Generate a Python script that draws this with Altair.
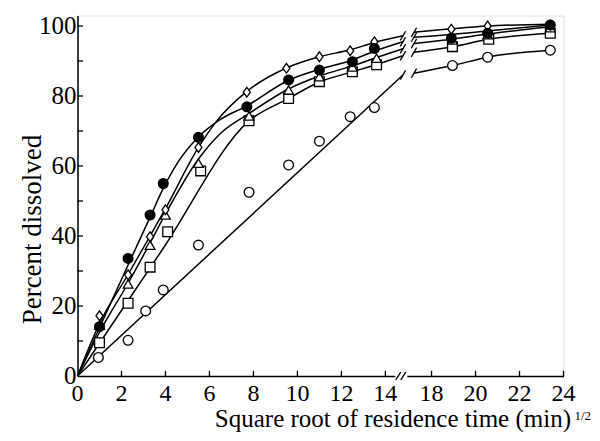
import altair as alt
import pandas as pd

# ---- values ----------------------------------------------------------------
# x: square root of residence time (min^1/2), y: percent dissolved
diamond_x = [1.0, 2.3, 3.3, 4.0, 5.5, 7.7, 9.5, 11.0, 12.4, 13.5, 18.9, 20.55, 23.4]
diamond_y = [17.2, 28.9, 39.8, 47.5, 65.3, 81.1, 87.9, 91.2, 92.9, 95.5, 99.1, 100.0, 100.3]

filled_x = [1.0, 2.3, 3.3, 3.9, 5.5, 7.7, 9.6, 11.0, 12.5, 13.5, 18.9, 20.55, 23.4]
filled_y = [14.1, 33.6, 46.0, 55.0, 68.2, 76.9, 84.6, 87.4, 89.8, 93.6, 96.5, 97.9, 100.3]

triangle_x = [1.0, 2.3, 3.3, 4.0, 5.5, 7.8, 9.6, 11.0, 12.5, 13.6, 18.95, 20.55, 23.4]
triangle_y = [14.5, 26.3, 37.4, 46.0, 60.8, 74.3, 81.7, 85.5, 88.3, 90.8, 96.0, 97.5, 99.5]

square_x = [1.0, 2.3, 3.3, 4.1, 5.6, 7.8, 9.6, 11.0, 12.5, 13.6, 18.95, 20.6, 23.4]
square_y = [9.5, 20.8, 31.1, 41.2, 58.6, 72.9, 79.3, 84.1, 86.9, 88.9, 94.1, 96.2, 97.9]

circle_x = [0.95, 2.3, 3.1, 3.9, 5.5, 7.8, 9.6, 11.0, 12.4, 13.5, 18.95, 20.55, 23.4]
circle_y = [5.3, 10.2, 18.6, 24.6, 37.4, 52.5, 60.3, 67.1, 74.1, 76.7, 88.7, 91.1, 93.1]

# fitted curves as drawn (left of the axis break, right of the axis break)
diamond_curve_lx = [0, 1, 2.3, 3.3, 4.0, 5.5, 6.3, 7.7, 9.5, 11.0, 12.4, 13.5, 14.8]
diamond_curve_ly = [0, 15.0, 29.0, 40.0, 47.8, 65.3, 72.6, 81.3, 88.0, 91.2, 93.2, 95.3, 97.2]
diamond_curve_rx = [17.2, 18.9, 20.55, 23.4]
diamond_curve_ry = [98.2, 99.2, 100.0, 100.5]

filled_curve_lx = [0, 1, 2.3, 3.3, 3.9, 4.6, 5.5, 6.5, 7.7, 9.6, 11.0, 12.5, 13.5, 14.8]
filled_curve_ly = [0, 13.8, 31.7, 45.4, 53.6, 61.4, 68.3, 73.3, 77.2, 84.5, 87.6, 90.3, 92.8, 95.5]
filled_curve_rx = [17.2, 18.9, 20.55, 23.4]
filled_curve_ry = [96.8, 97.6, 98.6, 100.3]

triangle_curve_lx = [0, 1, 2.3, 3.3, 4.0, 5.5, 6.5, 7.8, 9.6, 11.0, 12.5, 13.6, 14.8]
triangle_curve_ly = [0, 12.5, 26.5, 38.0, 46.3, 62.0, 69.3, 75.0, 82.0, 85.7, 88.6, 91.0, 93.5]
triangle_curve_rx = [17.2, 18.95, 20.55, 23.4]
triangle_curve_ry = [95.0, 96.3, 97.7, 99.8]

square_curve_lx = [0, 3.9, 7.8, 9.6, 11.0, 12.5, 13.6, 14.8]
square_curve_ly = [0, 36.5, 72.9, 79.3, 84.0, 86.9, 89.0, 91.5]
square_curve_rx = [17.2, 18.95, 20.6, 23.4]
square_curve_ry = [92.5, 94.1, 96.2, 97.9]

circle_curve_lx = [0, 14.8]
circle_curve_ly = [0, 86.0]
circle_curve_rx = [17.2, 18.95, 20.55, 23.4]
circle_curve_ry = [86.5, 88.7, 91.1, 93.1]

x_tick_values = [0, 2, 4, 6, 8, 10, 12, 14, 18, 20, 22, 24]
y_label_values = [0, 20, 40, 60, 80, 100]
y_tick_values = [10, 20, 30, 40, 50, 60, 70, 80, 90, 100]

BREAK_SHIFT = 1.9  # 14..18 gap compressed on the axis


def pos(x):
    return x if x < 16 else x - BREAK_SHIFT


series = ["circle", "square", "triangle", "diamond", "filled"]
pts = {
    "diamond": (diamond_x, diamond_y),
    "filled": (filled_x, filled_y),
    "triangle": (triangle_x, triangle_y),
    "square": (square_x, square_y),
    "circle": (circle_x, circle_y),
}
curves = {
    "diamond": (diamond_curve_lx, diamond_curve_ly, diamond_curve_rx, diamond_curve_ry),
    "filled": (filled_curve_lx, filled_curve_ly, filled_curve_rx, filled_curve_ry),
    "triangle": (triangle_curve_lx, triangle_curve_ly, triangle_curve_rx, triangle_curve_ry),
    "square": (square_curve_lx, square_curve_ly, square_curve_rx, square_curve_ry),
    "circle": (circle_curve_lx, circle_curve_ly, circle_curve_rx, circle_curve_ry),
}

point_rows = []
for s in series:
    xs, ys = pts[s]
    for x, y in zip(xs, ys):
        point_rows.append({"series": s, "p": pos(x), "y": y})
points_df = pd.DataFrame(point_rows)

line_rows = []
slash_rows = []
for s in series:
    lx, ly, rx, ry = curves[s]
    for i, (x, y) in enumerate(zip(lx, ly)):
        line_rows.append({"series": s, "seg": s + "_L", "p": pos(x), "y": y, "o": i})
    for i, (x, y) in enumerate(zip(rx, ry)):
        line_rows.append({"series": s, "seg": s + "_R", "p": pos(x), "y": y, "o": i})
    for (x, y) in [(lx[-1], ly[-1]), (rx[0], ry[0])]:
        slash_rows.append({"p1": pos(x) - 0.12, "p2": pos(x) + 0.12, "y1": y - 1.3, "y2": y + 1.3})
lines_df = pd.DataFrame(line_rows)
slash_df = pd.DataFrame(slash_rows)

axis_pos = [pos(v) for v in x_tick_values]
xticks_df = pd.DataFrame({"p": axis_pos[1:], "y1": [0] * (len(axis_pos) - 1), "y2": [1.5] * (len(axis_pos) - 1)})
yticks_df = pd.DataFrame({"y": y_tick_values, "p1": [0] * len(y_tick_values), "p2": [0.25] * len(y_tick_values)})
xlab_df = pd.DataFrame({"p": axis_pos, "label": [str(v) for v in x_tick_values]})
ylab_df = pd.DataFrame({"y": y_label_values, "label": [str(v) for v in y_label_values]})

gap_left, gap_right = 14.45, 15.0
gap_df = pd.DataFrame({"p1": [gap_left], "p2": [gap_right], "y1": [-0.7], "y2": [0.7]})
axis_slash_df = pd.DataFrame({
    "p1": [gap_left + 0.02, gap_right - 0.3],
    "p2": [gap_left + 0.25, gap_right - 0.07],
    "y1": [-1.1, -1.1],
    "y2": [1.1, 1.1],
})

FONT = "Liberation Serif"
H = 360.5
xscale = alt.Scale(domain=[0, 24 - BREAK_SHIFT], nice=False, zero=False)
yscale = alt.Scale(domain=[0, 103], nice=False)

x_enc = alt.X("p:Q", scale=xscale, title=None,
              axis=alt.Axis(labels=False, ticks=False, grid=False, domainColor="black",
                            domainWidth=1.5, title=None))
y_enc = alt.Y("y:Q", scale=yscale, title=None,
              axis=alt.Axis(labels=False, ticks=False, grid=False, domainColor="black",
                            domainWidth=1.5, title=None))

lines = alt.Chart(lines_df).mark_line(color="black", strokeWidth=1.5, interpolate="monotone").encode(
    x=x_enc, y=y_enc, detail="seg:N", order="o:Q")

slashes = alt.Chart(slash_df).mark_rule(color="black", strokeWidth=1.3).encode(
    x=alt.X("p1:Q", scale=xscale), x2="p2:Q", y=alt.Y("y1:Q", scale=yscale), y2="y2:Q")

diamond_path = "M0,-1L0.72,0L0,1L-0.72,0Z"
markers = alt.Chart(points_df).mark_point(filled=True, stroke="black", strokeWidth=1.3, opacity=1).encode(
    x=alt.X("p:Q", scale=xscale),
    y=alt.Y("y:Q", scale=yscale),
    shape=alt.Shape("series:N", legend=None,
                    scale=alt.Scale(domain=series,
                                    range=["circle", "square", "triangle-up", diamond_path, "circle"])),
    fill=alt.Fill("series:N", legend=None,
                  scale=alt.Scale(domain=series, range=["white", "white", "white", "white", "black"])),
    size=alt.Size("series:N", legend=None,
                  scale=alt.Scale(domain=series, range=[95, 95, 130, 140, 115])),
)

xticks = alt.Chart(xticks_df).mark_rule(color="black", strokeWidth=1.3).encode(
    x=alt.X("p:Q", scale=xscale), y=alt.Y("y1:Q", scale=yscale), y2="y2:Q")
yticks = alt.Chart(yticks_df).mark_rule(color="black", strokeWidth=1.3).encode(
    y=alt.Y("y:Q", scale=yscale), x=alt.X("p1:Q", scale=xscale), x2="p2:Q")

gap = alt.Chart(gap_df).mark_rect(color="white").encode(
    x=alt.X("p1:Q", scale=xscale), x2="p2:Q", y=alt.Y("y1:Q", scale=yscale), y2="y2:Q")
axis_slashes = alt.Chart(axis_slash_df).mark_rule(color="black", strokeWidth=1.3).encode(
    x=alt.X("p1:Q", scale=xscale), x2="p2:Q", y=alt.Y("y1:Q", scale=yscale), y2="y2:Q")

xlabels = alt.Chart(xlab_df).mark_text(font=FONT, fontSize=24, align="center",
                                       baseline="alphabetic", color="black").encode(
    x=alt.X("p:Q", scale=xscale), y=alt.value(H + 25), text="label:N")
ylabels = alt.Chart(ylab_df).mark_text(font=FONT, fontSize=25, align="right",
                                       baseline="middle", color="black").encode(
    y=alt.Y("y:Q", scale=yscale), x=alt.value(-1), text="label:N")

txt = pd.DataFrame({"a": [0]})
y_title = alt.Chart(txt).mark_text(font=FONT, fontSize=27, angle=270, align="center",
                                   baseline="middle", color="black").encode(
    x=alt.value(-45), y=alt.value(214), text=alt.value("Percent dissolved"))
x_title = alt.Chart(txt).mark_text(font=FONT, fontSize=25, align="right",
                                   baseline="alphabetic", color="black").encode(
    x=alt.value(493.5), y=alt.value(411), text=alt.value("Square root of residence time (min)"))
x_sup = alt.Chart(txt).mark_text(font=FONT, fontSize=13, align="left",
                                 baseline="alphabetic", color="black").encode(
    x=alt.value(497), y=alt.value(404), text=alt.value("1/2"))

chart = alt.layer(
    lines, slashes, markers, xticks, yticks, gap, axis_slashes,
    xlabels, ylabels, y_title, x_title, x_sup
).properties(
    width=486, height=H,
    autosize=alt.AutoSizeParams(type="none"),
    padding={"left": 69.5, "top": 7.5, "right": 28.5, "bottom": 56},
).configure_view(stroke=None).configure(background="white")

chart.save("out.html", embed_options={"renderer": "svg", "actions": False})
